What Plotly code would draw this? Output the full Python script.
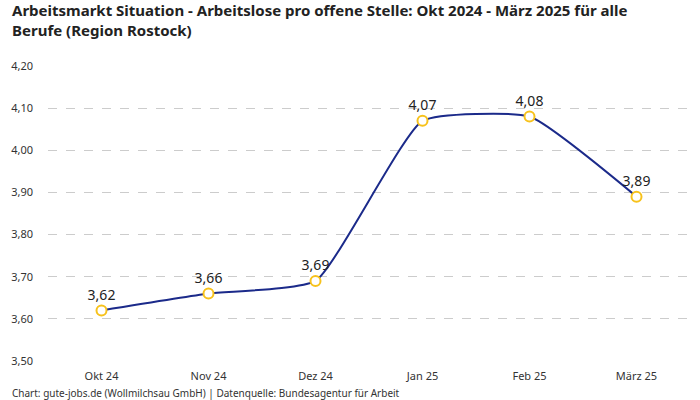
import plotly.graph_objects as go

categories = ["Okt 24", "Nov 24", "Dez 24", "Jan 25", "Feb 25", "März 25"]
values = [3.62, 3.66, 3.69, 4.07, 4.08, 3.89]
y_ticks = [3.50, 3.60, 3.70, 3.80, 3.90, 4.00, 4.10, 4.20]

title_lines = [
    "Arbeitsmarkt Situation - Arbeitslose pro offene Stelle: Okt 2024 - März 2025 für alle",
    "Berufe (Region Rostock)",
]
footer = "Chart: gute-jobs.de (Wollmilchsau GmbH) | Datenquelle: Bundesagentur für Arbeit"

FONT = "Noto Sans, Roboto, sans-serif"
W, H = 700, 400
ML, MR, MT, MB = 48, 10, 66, 39
PW, PH = W - ML - MR, H - MT - MB


def px_x(x):
    return (x - ML) / PW


def px_y(y):
    return (H - MB - y) / PH


fig = go.Figure()
fig.add_trace(go.Scatter(
    x=categories, y=values,
    mode="lines+markers+text",
    line=dict(color="#1b2a8a", width=2, shape="spline", smoothing=0.45),
    marker=dict(size=10, color="white", line=dict(color="#f7c21c", width=2)),
    text=[f"{v:.2f}".replace(".", ",") for v in values],
    textposition="top center",
    textfont=dict(size=14, color="#222222", family=FONT),
    hoverinfo="skip",
    cliponaxis=False,
))

annotations = []
for i, (line, ypx) in enumerate(zip(title_lines, [10.5, 29.5])):
    annotations.append(dict(
        text=f"<b>{line}</b>", xref="paper", yref="paper",
        x=px_x(10), y=px_y(ypx), xanchor="left", yanchor="middle",
        showarrow=False,
        font=dict(size=15, color="#222222", family=FONT),
    ))
annotations.append(dict(
    text=footer, xref="paper", yref="paper", x=px_x(10), y=px_y(393),
    xanchor="left", yanchor="middle", showarrow=False,
    font=dict(size=10, color="#333333", family=FONT),
))

fig.update_layout(
    width=W, height=H,
    margin=dict(l=ML, r=MR, t=MT, b=MB),
    paper_bgcolor="white", plot_bgcolor="white",
    separators=",.",
    showlegend=False,
    font=dict(family=FONT, color="#333333"),
    xaxis=dict(
        type="category", range=[-0.5, 5.5],
        showgrid=False, showline=False, zeroline=False, ticks="",
        tickfont=dict(size=11, color="#333333"),
        ticklabelstandoff=7,
    ),
    yaxis=dict(
        range=[3.50, 4.20], tickvals=y_ticks, tickformat=".2f",
        showgrid=True, gridcolor="#cccccc", griddash="dash", gridwidth=1,
        zeroline=False, showline=False, ticks="",
        tickfont=dict(size=11, color="#333333"),
        ticklabelstandoff=14,
    ),
    annotations=annotations,
)

fig.write_html("out.html", config={"displayModeBar": False},
               post_script="document.body.style.margin='0';")
